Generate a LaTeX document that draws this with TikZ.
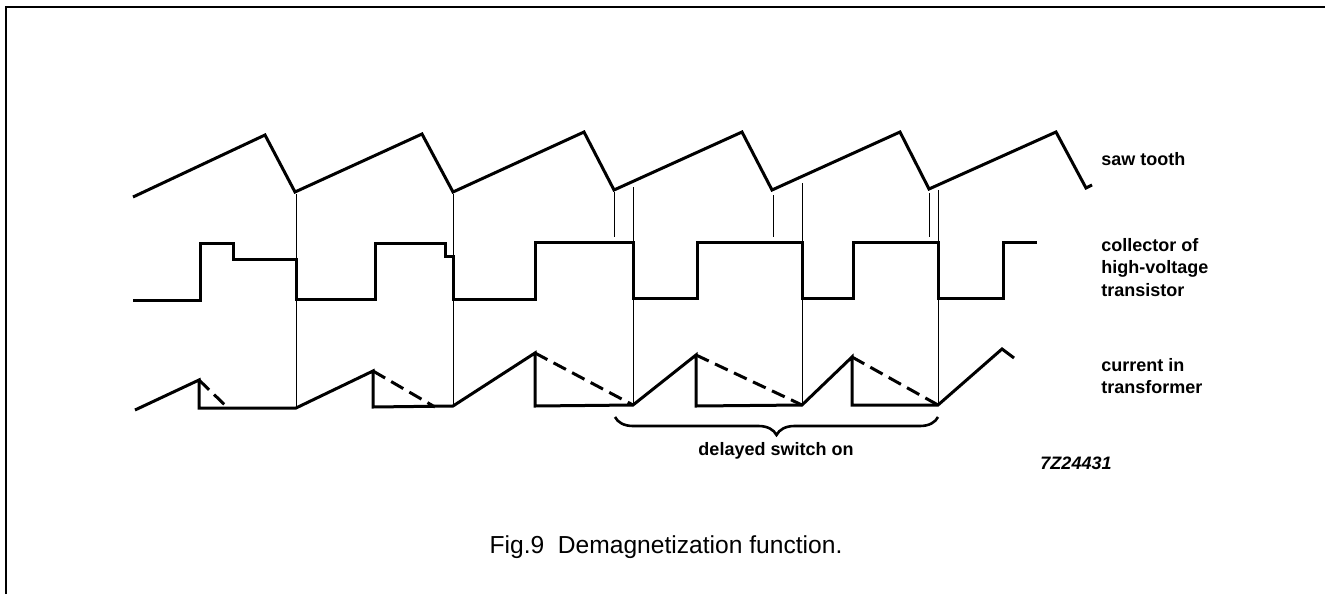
\documentclass[tikz,border=0pt]{standalone}
\usepackage{fontspec}
\setmainfont{Liberation Sans}
\usetikzlibrary{decorations.pathreplacing}

\begin{document}
\begin{tikzpicture}
            [x=0.5pt, y=-0.5pt, line join=miter,
            wave/.style={line width=1.5pt},
            demag/.style={line width=1.5pt, dash pattern=on 7pt off 3.5pt},
            marker/.style={line width=0.5pt},
            siglabel/.style={font=\fontsize{9}{11.25}\selectfont\bfseries, align=left, anchor=north west, inner sep=0pt},
            delaybrace/.style={decorate, decoration={brace, mirror, amplitude=9pt}, line width=1.3pt}]

            \useasboundingbox (0,0) rectangle (1325,594);
            \draw[line width=0.8pt] (6,594) -- (6,7) -- (1325,7);

            % saw tooth
            \draw[wave] (133,197) -- (265,135) -- (295,192) -- (422,134) -- (453,192)
                -- (584,132) -- (614,190) -- (742,132) -- (772,190) -- (900,132)
                -- (929,189) -- (1056,132) -- (1086,188) -- (1092,185);

            % collector
            \draw[wave] (133,300) -- (200,300) -- (200,243) -- (233,243) -- (233,259)
                -- (296,259) -- (296,299) -- (375,299) -- (375,243) -- (445,243)
                -- (445,256) -- (453,256) -- (453,299) -- (535,299) -- (535,242)
                -- (633,242) -- (633,298) -- (697,298) -- (697,242) -- (802,242)
                -- (802,298) -- (853,298) -- (853,242) -- (938,242) -- (938,298)
                -- (1003,298) -- (1003,242) -- (1037,242);

            % current
            \draw[wave] (135,410) -- (199,380) -- (199,408) -- (296,408) -- (373,371)
                -- (373,407) -- (453,406) -- (535,353) -- (535,406) -- (633,405)
                -- (696,355) -- (696,406) -- (802,405) -- (852,357) -- (852,405)
                -- (938,405) -- (1002,349) -- (1014,358);
            \draw[demag] (199,380) -- (227,407);
            \draw[demag] (373,371) -- (435,407);
            \draw[demag] (535,353) -- (633,405);
            \draw[demag] (696,355) -- (802,405);
            \draw[demag] (852,357) -- (938,405);

            \foreach \x/\ya/\yb in {296/194/406, 453/194/405, 614/192/237, 633/187/403,
                773/195/237, 802/183/403, 929/193/237, 938/190/403}
                \draw[marker] (\x,\ya) -- (\x,\yb);

            \coordinate (dl) at (615,417);
            \coordinate (dr) at (938,417);
            \draw[delaybrace] (dl) -- (dr);
            \node[font=\fontsize{9}{11}\selectfont\bfseries] (delay) at (776,451) {delayed switch on};

            \node[siglabel] (sawlbl) at (1101,152) {saw tooth};
            \node[siglabel] (collbl) at (1101,238) {collector of\\high-voltage\\transistor};
            \node[siglabel] (curlbl) at (1101,358) {current in\\transformer};
            \node[font=\fontsize{9}{11}\selectfont\bfseries\itshape] (code) at (1076,463) {7Z24431};

            \node[font=\fontsize{12.3}{14}\selectfont] (caption) at (666,547) {Fig.9~~Demagnetization function.};

        \end{tikzpicture}
\end{document}
